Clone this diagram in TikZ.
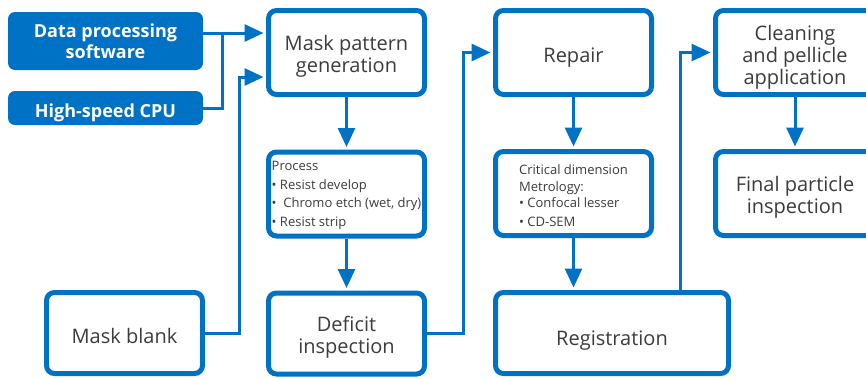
\documentclass[tikz,border=0pt]{standalone}
\usepackage{fontspec}
\setmainfont{Open Sans}
\usetikzlibrary{arrows.meta}
\definecolor{ibblue}{RGB}{0,114,198}
\definecolor{ibtext}{RGB}{60,60,60}
% invisible strut that pushes a node's text down
\newcommand{\lift}[1]{\rule{0pt}{#1pt}}

\begin{document}
\begin{tikzpicture}[x=1pt,y=-1pt,
  stage/.style={draw=ibblue,line width=5pt,rounded corners=8pt,fill=white,text=ibtext,
    align=center,inner sep=0pt,minimum width=156pt,minimum height=84pt,
    font=\fontsize{20}{22}\selectfont},
  notes/.style={stage,align=left,font=\fontsize{13}{18.5}\selectfont},
  source/.style={fill=ibblue,rounded corners=7pt,text=white,align=center,inner sep=0pt,
    minimum width=195pt,font=\bfseries\fontsize{18}{21}\selectfont},
  flow/.style={ibblue,line width=3pt,-{Triangle[length=19pt,width=17pt]},shorten >=2.5pt}]
\useasboundingbox (0,0) rectangle (866,378);
% inputs on the left
\node[source,minimum height=58pt] (dps) at (105.5,41) {Data processing\\software};
\node[source,minimum height=34pt] (cpu) at (105.5,108) {\lift{24}High-speed CPU};
\node[stage,minimum height=81pt] (blank) at (124.5,333) {\lift{21}Mask blank};
% writing and inspection
\node[stage] (mpg) at (346.5,52.5) {\lift{22}Mask pattern\\generation};
\node[notes] (proc) at (346.5,194) {\lift{12}Process\\• Resist develop\\•\ \ Chromo etch (wet, dry)\\• Resist strip};
\node[stage,minimum height=81pt] (defi) at (346.5,333.5) {\lift{22}Deficit\\inspection};
% repair and metrology
\node[stage] (repair) at (573.5,52.5) {\lift{25}Repair};
\node[notes,font=\fontsize{13}{16.5}\selectfont] (cd) at (573.5,193.5)
  {\lift{14}Critical dimension\\Metrology:\\• Confocal lesser\\[2pt]• CD-SEM};
\node[stage,minimum width=233pt,minimum height=81pt] (reg) at (612,333) {\lift{29}Registration};
% finishing (runs off the right edge)
\node[stage,minimum width=159pt] (clean) at (795,52.5) {\lift{24}Cleaning\\and pellicle\\application};
\node[stage,minimum width=159pt] (final) at (795,193.5) {\lift{22}Final particle\\inspection};
% feeds into mask pattern generation
\coordinate (in1) at ([yshift=19.5pt]mpg.west);
\coordinate (in2) at ([yshift=-24.5pt]mpg.west);
\coordinate (j1) at ([xshift=19pt]dps.east |- in1);
\draw[flow] (dps.east |- in1) -- (in1);
\draw[ibblue,line width=3pt] (cpu.east) -| (j1);
\draw[flow] (blank.east) -- ++(34,0) |- (in2);
% straight drops
\foreach \a/\b in {mpg/proc,proc/defi,repair/cd,clean/final}
  \draw[flow] (\a.south) -- (\b.north);
\draw[flow] (cd.south) -- (cd.south |- reg.north);
% loops back up to the next column
\draw[flow] (defi.east) -- ++(36,0) |- (repair.west);
\coordinate (up) at ([xshift=-33pt]clean.west);
\draw[flow] (up |- reg.north) |- (clean.west);
\end{tikzpicture}
\end{document}
